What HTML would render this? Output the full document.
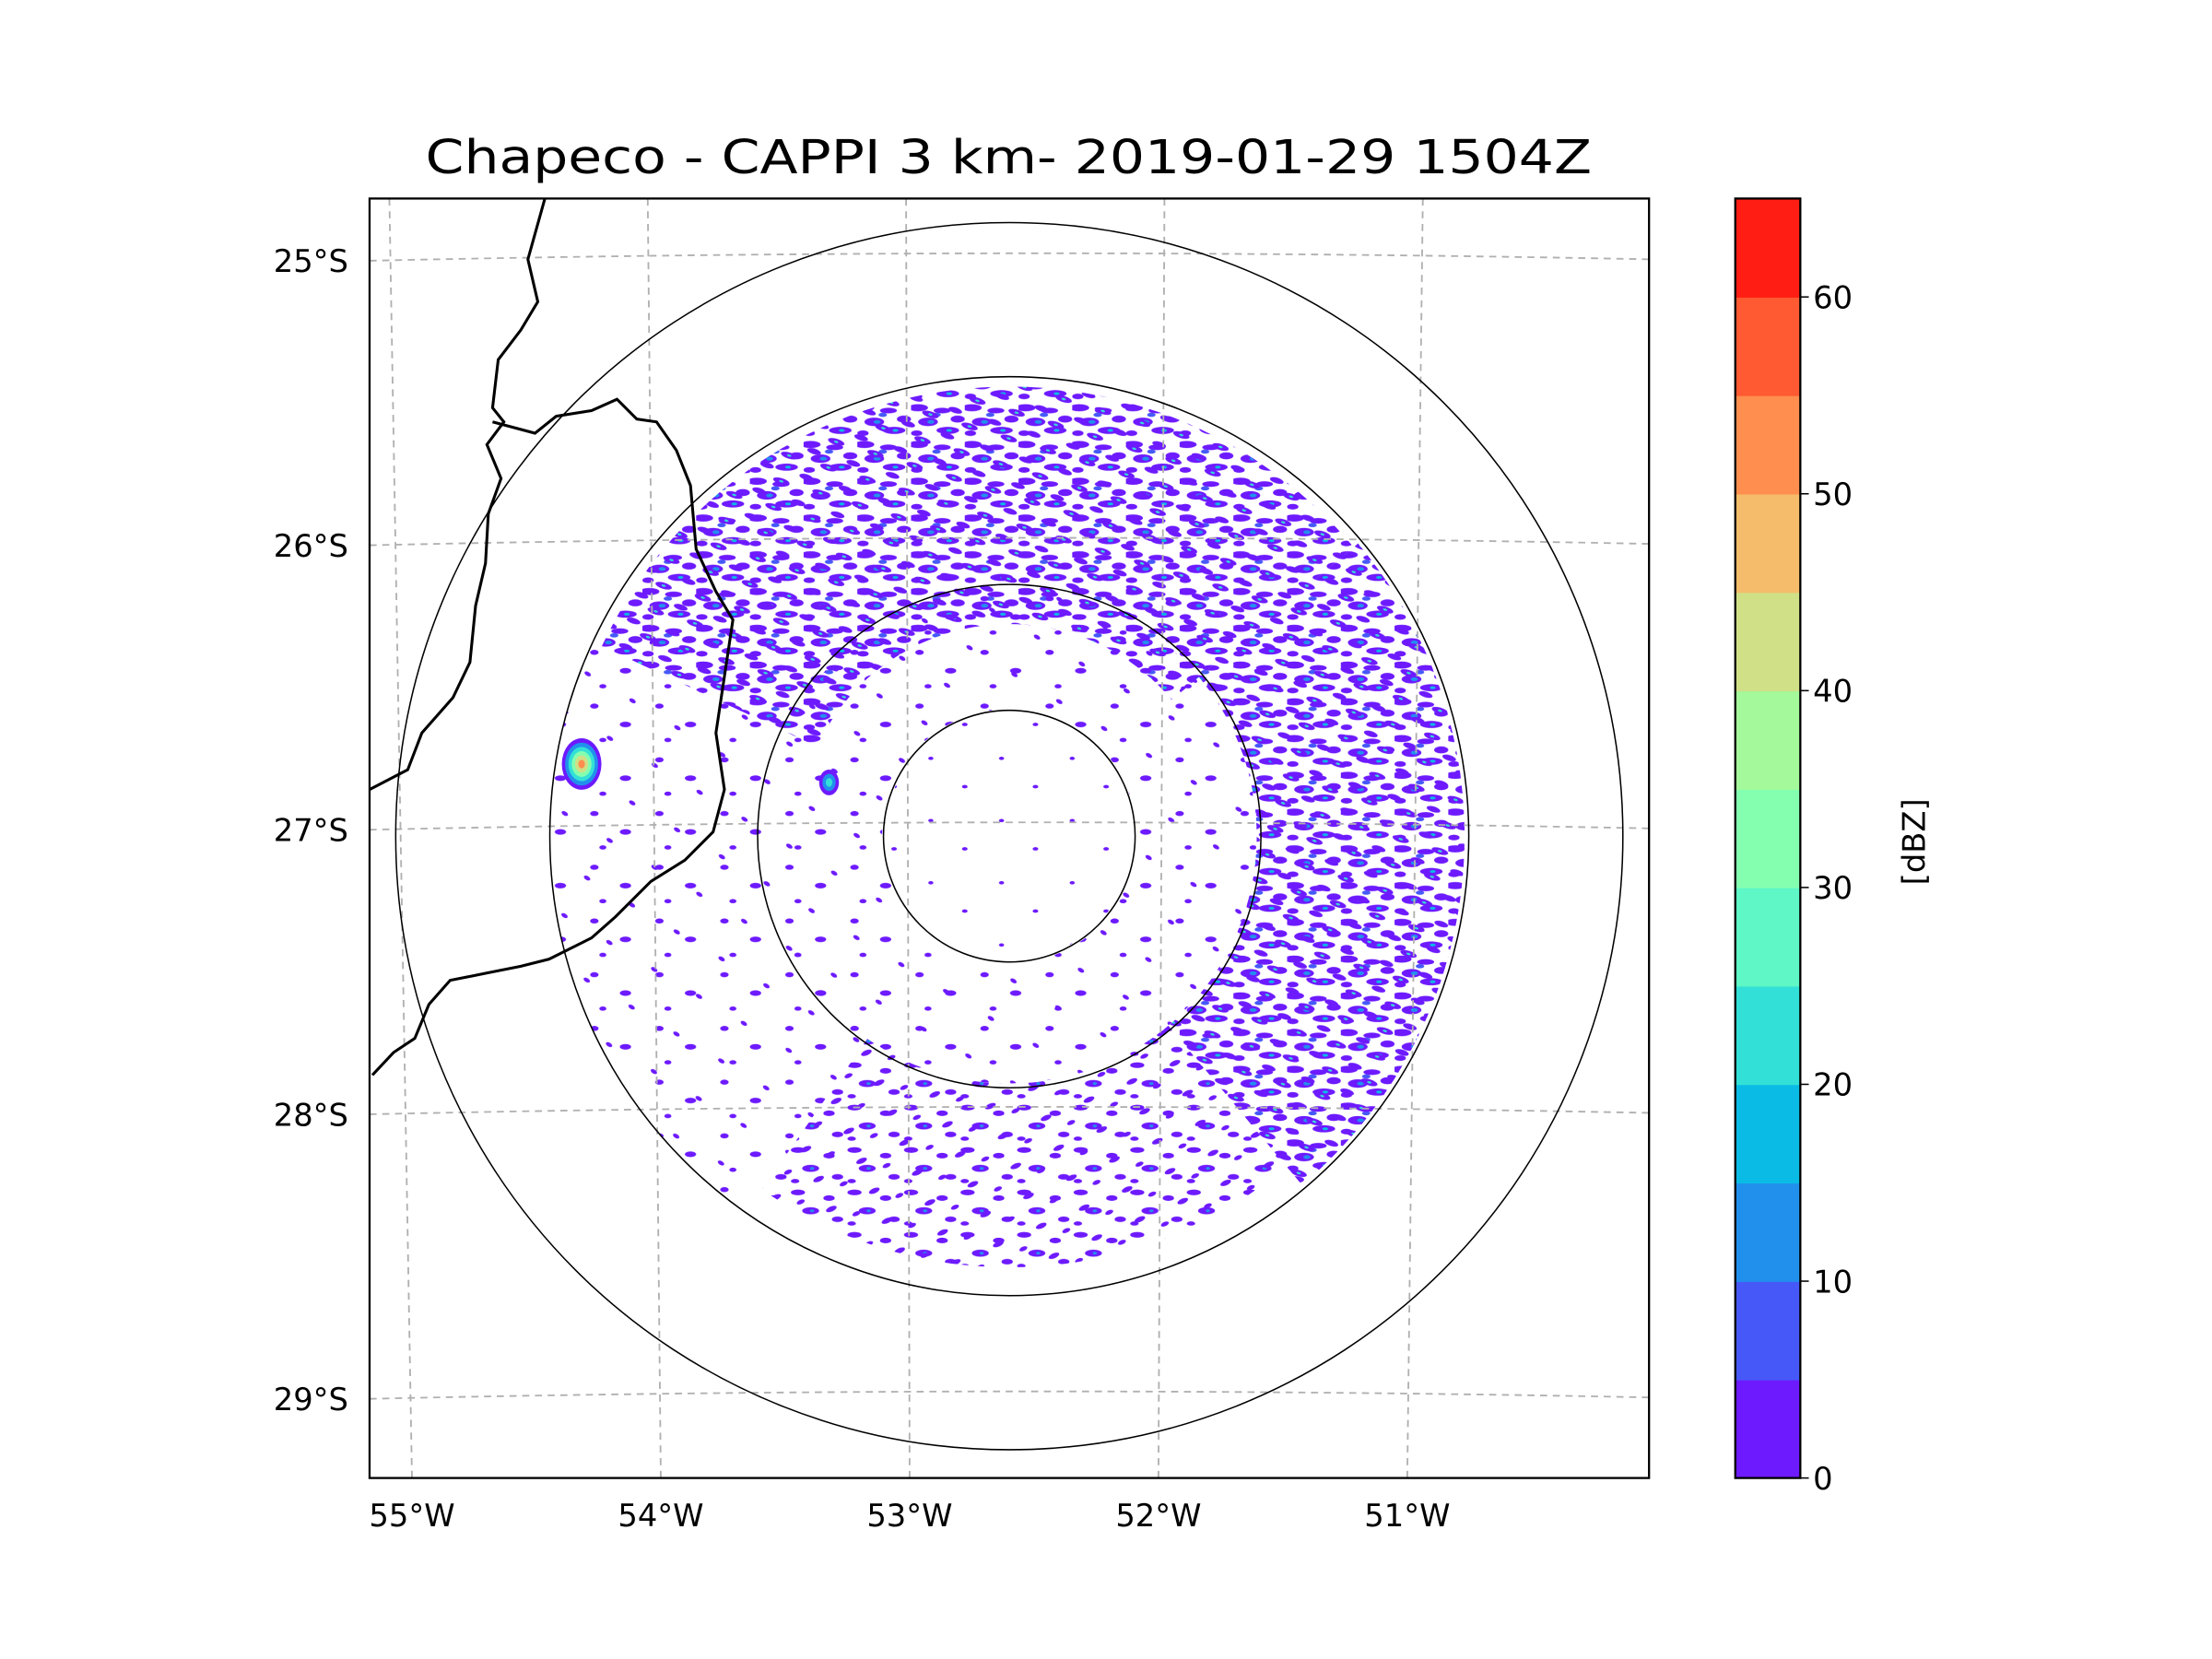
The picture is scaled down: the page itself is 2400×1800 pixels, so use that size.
<!DOCTYPE html>
<html><head><meta charset="utf-8"><style>html,body{margin:0;padding:0;background:#fff}svg{display:block}</style></head>
<body>
<svg id="fig" xmlns="http://www.w3.org/2000/svg" width="2400" height="1800" viewBox="1.6 1.6 1564.6 1173.4" font-family="DejaVu Sans, Liberation Sans, sans-serif">
<defs>
<clipPath id="axclip"><rect x="263" y="142" width="905" height="905"/></clipPath>
<pattern id="pdense" width="38" height="26" patternUnits="userSpaceOnUse">
<ellipse cx="5" cy="4" rx="7" ry="2.5" fill="#6d1aff"/><ellipse cx="22" cy="6" rx="6" ry="2" fill="#6d1aff"/>
<ellipse cx="33" cy="12" rx="5" ry="2.5" fill="#6d1aff"/><ellipse cx="12" cy="14" rx="7" ry="3" fill="#6d1aff"/>
<ellipse cx="26" cy="20" rx="8" ry="2.5" fill="#6d1aff"/><ellipse cx="4" cy="22" rx="4" ry="2" fill="#6d1aff"/>
<ellipse cx="14" cy="14" rx="2.5" ry="1.3" fill="#2190ed"/><ellipse cx="27" cy="20" rx="2" ry="1" fill="#0abce5"/>
<ellipse cx="18" cy="9" rx="3" ry="1.5" fill="#4659f8"/>
</pattern>
<pattern id="pdense2" width="29" height="19" patternUnits="userSpaceOnUse" patternTransform="rotate(17)">
<ellipse cx="8" cy="5" rx="5" ry="2" fill="#6d1aff"/><ellipse cx="21" cy="13" rx="6" ry="2.2" fill="#6d1aff"/>
<ellipse cx="21" cy="13" rx="1.5" ry="0.8" fill="#33e0d7"/>
</pattern>
<pattern id="pmed" width="40" height="30" patternUnits="userSpaceOnUse">
<ellipse cx="6" cy="5" rx="5" ry="2" fill="#6d1aff"/><ellipse cx="28" cy="9" rx="4" ry="2" fill="#6d1aff"/>
<ellipse cx="15" cy="18" rx="6" ry="2.5" fill="#6d1aff"/><ellipse cx="34" cy="24" rx="4" ry="2" fill="#6d1aff"/>
<ellipse cx="4" cy="27" rx="3" ry="1.5" fill="#6d1aff"/><ellipse cx="16" cy="18" rx="1.5" ry="1" fill="#2190ed"/>
</pattern>
<pattern id="pmed2" width="33" height="23" patternUnits="userSpaceOnUse" patternTransform="rotate(-23)">
<ellipse cx="10" cy="7" rx="4" ry="1.8" fill="#6d1aff"/><ellipse cx="25" cy="17" rx="3" ry="1.5" fill="#6d1aff"/>
</pattern>
<pattern id="psparse" width="46" height="38" patternUnits="userSpaceOnUse">
<ellipse cx="8" cy="7" rx="3" ry="1.8" fill="#6d1aff"/><ellipse cx="30" cy="20" rx="4" ry="2" fill="#6d1aff"/>
<ellipse cx="14" cy="31" rx="2.5" ry="1.5" fill="#6d1aff"/>
</pattern>
<pattern id="psparse2" width="37" height="31" patternUnits="userSpaceOnUse" patternTransform="rotate(31)">
<ellipse cx="12" cy="9" rx="2.5" ry="1.4" fill="#6d1aff"/>
</pattern>
<pattern id="pvsparse" width="50" height="44" patternUnits="userSpaceOnUse">
<ellipse cx="10" cy="10" rx="1.8" ry="1.2" fill="#6d1aff"/><ellipse cx="34" cy="30" rx="2" ry="1.2" fill="#6d1aff"/>
</pattern>
</defs>
<rect x="-10" y="-10" width="1600" height="1200" fill="#fff"/>
<text x="715" y="124" font-size="33" text-anchor="middle" textLength="825" lengthAdjust="spacingAndGlyphs">Chapeco - CAPPI 3 km- 2019-01-29 1504Z</text>
<g id="map" clip-path="url(#axclip)"></g>
<rect x="263" y="142" width="905" height="905" fill="none" stroke="#000" stroke-width="1.5"/>
<g id="ticks"></g>
<g id="cbar"></g>
</svg>
<script>
const NS='http://www.w3.org/2000/svg';
// ---- data ----
const latTicks=[-25,-26,-27,-28,-29];
const latLabels=['25°S','26°S','27°S','28°S','29°S'];
const lonTicks=[-55,-54,-53,-52,-51];
const lonLabels=['55°W','54°W','53°W','52°W','51°W'];
const rangeRings=[89,178,325,434];
const regionAzStart=[-65,50,140,215,0,0];
const regionAzEnd=[50,140,215,295,360,360];
const regionRangeIn=[150,175,175,170,90,10];
const regionRangeOut=[318,322,305,325,175,88];
const regionDbz=[9,10,7,3,4,1];
const cellX=[413,588];
const cellY=[540,553];
const cellSize=[14,7];
const cellMaxDbz=[52,20];
const cbarBounds=[0,5,10,15,20,25,30,35,40,45,50,55,60,65];
const cbarColors=['#6d1aff','#4659f8','#2190ed','#0abce5','#33e0d7','#5ef7c5','#84ffb0','#a4f99a','#d0e087','#f5bd6b','#ff8e4f','#ff5a32','#ff1d14'];
const cbarTicks=[0,10,20,30,40,50,60];
const coast1=[[387,142],[375,185],[382,215],[370,235],[354,256],[350,290],[358,300],[346,316],[356,340],[347,365],[345,400],[338,430],[334,470],[322,495],[300,520],[290,546],[263,560]];
const coast2=[[350,300],[380,308],[395,296],[420,292],[438,284],[452,298],[466,300],[480,320],[490,345],[494,390],[508,420],[520,440],[514,480],[508,520],[514,560],[506,590],[486,610],[462,625],[437,650],[420,665],[390,680],[370,685],[345,690],[320,695],[305,712],[295,736],[280,746],[265,762]];
// ---- scales ----
const CX=715.5,CY=593,L=263,R=1168,T=142,B=1047;
function lonX(lon,top){return top?(277+(lon+55)*182.75):(293+(lon+55)*176);}
function latY(lat){return 186+(-25-lat)*201.25;}
function dbzY(v){return B-(v/65)*(B-T);}
function dbzColor(v){let i=Math.floor(v/5);if(i<0)i=0;if(i>12)i=12;return cbarColors[i];}
function el(t,a,p){const e=document.createElementNS(NS,t);for(const k in a)e.setAttribute(k,a[k]);p.appendChild(e);return e;}
function pol(az,r){const a=az*Math.PI/180;return [CX+r*Math.sin(a),CY-r*Math.cos(a)];}
const map=document.getElementById('map');
function patternsFor(v){return v>=8?['url(#pdense)','url(#pdense2)']:v>=5?['url(#pmed)','url(#pmed2)']:v>=3?['url(#psparse)','url(#psparse2)']:['url(#pvsparse)'];}
for(let i=0;i<regionDbz.length;i++){
  const a0=regionAzStart[i],a1=regionAzEnd[i],r0=regionRangeIn[i],r1=regionRangeOut[i];
  let d='';const n=60;
  for(let k=0;k<=n;k++){const p=pol(a0+(a1-a0)*k/n,r1);d+=(k?'L':'M')+p[0].toFixed(1)+','+p[1].toFixed(1);}
  for(let k=n;k>=0;k--){const p=pol(a0+(a1-a0)*k/n,r0);d+='L'+p[0].toFixed(1)+','+p[1].toFixed(1);}
  for(const f of patternsFor(regionDbz[i])){
    const e=el('path',{d:d+'Z',fill:f},map);
    
    
  }
}
for(let i=0;i<cellX.length;i++){
  const g=el('g',{},map);
  
  
  const steps=Math.floor(cellMaxDbz[i]/10)+1;
  for(let s=0;s<steps;s++){
    const v=Math.min(s*10+2,cellMaxDbz[i]);const f=1-s/steps;
    el('ellipse',{cx:cellX[i],cy:cellY[i]+2,rx:cellSize[i]*f,ry:cellSize[i]*1.3*f,fill:dbzColor(v)},g);
  }
}
for(let i=0;i<lonTicks.length;i++){
  const e=el('line',{x1:lonX(lonTicks[i],true),y1:T,x2:lonX(lonTicks[i],false),y2:B,stroke:'#b0b0b0','stroke-width':1.2,'stroke-dasharray':'5,4'},map);
  
  
}
for(let i=0;i<latTicks.length;i++){
  const y=latY(latTicks[i]);
  const e=el('path',{d:`M${L},${y} Q${(L+R)/2},${y-10} ${R},${y-1}`,fill:'none',stroke:'#b0b0b0','stroke-width':1.2,'stroke-dasharray':'5,4'},map);
  
  
}
for(const r of rangeRings){
  const e=el('circle',{cx:CX,cy:CY,r:r,fill:'none',stroke:'#000','stroke-width':1},map);
  
  
}
for(const c of [coast1,coast2]){
  const e=el('polyline',{points:c.map(p=>p.join(',')).join(' '),fill:'none',stroke:'#000','stroke-width':2},map);
  
  
}
const tk=document.getElementById('ticks');
for(let i=0;i<latTicks.length;i++){
  const t=el('text',{x:248,y:latY(latTicks[i])+8,'font-size':22,'text-anchor':'end'},tk);t.textContent=latLabels[i];
  
  
}
for(let i=0;i<lonTicks.length;i++){
  const t=el('text',{x:lonX(lonTicks[i],false),y:1081,'font-size':22,'text-anchor':'middle'},tk);t.textContent=lonLabels[i];
  
  
}
const cb=document.getElementById('cbar');const X0=1229,X1=1275;
for(let i=0;i<cbarColors.length;i++){
  const y0=dbzY(cbarBounds[i+1]),y1=dbzY(cbarBounds[i]);
  const r=el('rect',{x:X0,y:y0,width:X1-X0,height:y1-y0+0.5,fill:cbarColors[i]},cb);
  
  
}
el('rect',{x:X0,y:T,width:X1-X0,height:B-T,fill:'none',stroke:'#000','stroke-width':1.5},cb);
for(const v of cbarTicks){
  const y=dbzY(v);
  el('line',{x1:X1,y1:y,x2:X1+6,y2:y,stroke:'#000','stroke-width':1},cb);
  const t=el('text',{x:X1+9,y:y+8,'font-size':22},cb);t.textContent=v;
  
  
}
const lab=el('text',{x:0,y:0,'font-size':22,'text-anchor':'middle',transform:'translate(1363,597) rotate(-90)'},cb);
lab.textContent='[dBZ]';


</script>
</body></html>
